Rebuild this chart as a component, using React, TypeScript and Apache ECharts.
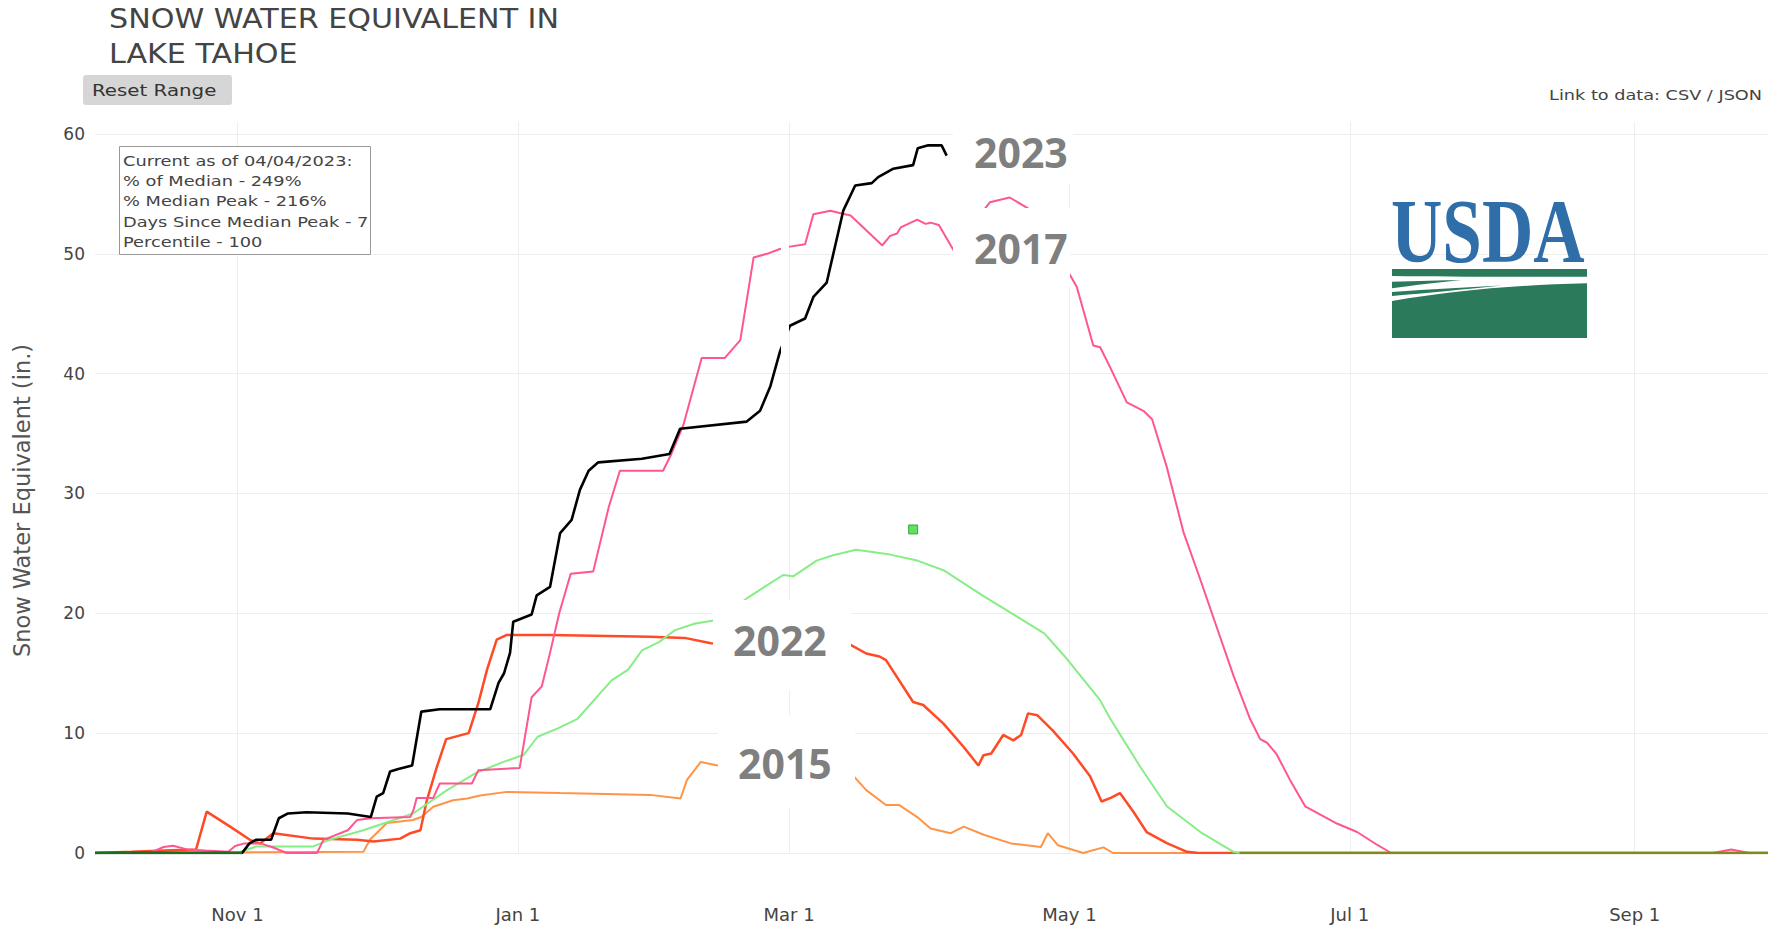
import React, { useEffect, useRef } from "react";
import * as echarts from "echarts";

// ---- axis ticks (day 0 = Oct 1 of the water year) ----
const tickDays = [31, 92, 151, 212, 273, 335];
const tickLabels = ["Nov 1", "Jan 1", "Mar 1", "May 1", "Jul 1", "Sep 1"];
const yTicks = [0, 10, 20, 30, 40, 50, 60];

// ---- series: [day of water year, SWE inches] ----
const swe2023 = [
  [0, 0], [32, 0], [33.6, 0.8], [35, 1.1], [38.3, 1.1], [40, 2.9], [42, 3.3], [46, 3.4], [55, 3.3], [60, 3.0],
  [61.3, 4.7], [62.7, 5.0], [64.2, 6.8], [66, 7.0], [69, 7.3], [71, 11.8], [75, 12.0], [86, 12.0], [87.8, 14.2],
  [89, 15.0], [90.3, 16.7], [91, 19.3], [95, 19.9], [96.1, 21.5], [99, 22.2], [101.2, 26.7], [103.7, 27.8],
  [105.5, 30.3], [107.4, 31.9], [109.5, 32.6], [119, 32.9], [125, 33.3], [127.3, 35.4], [141.8, 36.0],
  [144.7, 36.9], [146.9, 38.9], [149, 41.8], [151.2, 44.0], [154.5, 44.6], [156.3, 46.4], [159.2, 47.6],
  [162.8, 53.6], [165.4, 55.7], [169, 55.9], [170.4, 56.4], [173.7, 57.1], [178, 57.4], [179, 58.8],
  [181.3, 59.05], [184.2, 59.05], [185.3, 58.2],
];

const swe2017 = [
  [0, 0], [12, 0], [14.9, 0.5], [17, 0.6], [20, 0.3], [24, 0.2], [29, 0.1], [30.5, 0.58], [32.5, 0.8], [36, 0.8],
  [38.5, 0.5], [41.7, 0], [48.3, 0], [49.7, 1.1], [55, 1.9], [57, 2.75], [60, 2.9], [68.6, 3.0], [69.3, 3.6],
  [70, 4.6], [73.6, 4.6], [75, 5.8], [82, 5.8], [83.4, 6.9], [92.4, 7.1], [95, 13.0], [97.2, 13.9], [99, 16.7],
  [101, 20.0], [103.5, 23.3], [108.4, 23.5], [111.8, 28.9], [114.2, 31.9], [123.6, 31.9], [125.4, 33.3],
  [128, 35.7], [132, 41.3], [137, 41.3], [140.4, 42.8], [143.3, 49.7], [146.2, 50.0], [149, 50.4],
  [151.2, 50.6], [154.5, 50.8], [156.3, 53.3], [160, 53.6], [162, 53.4], [164.4, 53.2], [171.3, 50.7],
  [173, 51.5], [174.5, 51.7], [175.3, 52.2], [178.9, 52.85], [180.7, 52.5], [181.8, 52.6], [183.6, 52.4],
  [186.8, 50.3], [190, 52.0], [194.7, 54.3], [199, 54.7], [203, 53.8], [208, 51.0], [213.6, 47.25],
  [217.2, 42.35], [218.7, 42.2], [220.9, 40.5], [224.5, 37.6], [228.1, 36.9], [230, 36.2], [233.2, 32.2],
  [236.8, 26.8], [240.5, 22.8], [244.1, 18.8], [247.7, 14.8], [251.3, 11.2], [253.5, 9.5], [255, 9.2],
  [257, 8.3], [260, 6.1], [263.3, 3.9], [266.6, 3.2], [270.2, 2.46], [274.6, 1.75], [279, 0.67], [282, 0],
  [352, 0], [356, 0.3], [360, 0], [364, 0],
];

const swe2022 = [
  [0, 0], [8, 0.1], [15, 0.2], [22, 0.3], [24.3, 3.45], [29.4, 2.2], [33.7, 1.1], [35.9, 0.8], [38.8, 1.65],
  [47.5, 1.2], [57, 1.1], [60.6, 0.95], [66.4, 1.2], [68.6, 1.65], [70.8, 1.9], [72.2, 4.4], [74.4, 7.2],
  [76.4, 9.5], [81.3, 10.0], [83.4, 12.5], [85.3, 15.3], [87.4, 17.8], [89.6, 18.2], [99, 18.2],
  [120.8, 18.05], [128.3, 17.95], [134, 17.5], [150, 17.4], [164.5, 17.35], [167.8, 16.65], [170.7, 16.4],
  [172.1, 16.1], [178, 12.6], [180.2, 12.35], [184.6, 10.8], [189, 8.85], [192.2, 7.3], [193.3, 8.15],
  [195, 8.3], [197.6, 9.85], [199.8, 9.4], [201.5, 9.85], [203, 11.65], [205, 11.5], [208.3, 10.25],
  [212.8, 8.3], [216.5, 6.4], [219, 4.3], [221, 4.6], [223, 5.0], [226, 3.4], [228.8, 1.75], [233.2, 0.83],
  [237.6, 0.1], [240, 0], [364, 0],
];

const swe2015 = [
  [0, 0], [58.4, 0.1], [59.8, 1.1], [63.5, 2.5], [69.2, 2.75], [71, 3.0], [73.6, 3.86], [77.9, 4.4], [81, 4.55],
  [83.8, 4.8], [89.6, 5.1], [101.2, 5.0], [120.8, 4.85], [127.4, 4.55], [128.8, 6.1], [131.8, 7.6],
  [135.5, 7.3], [150, 7.0], [165.1, 6.4], [167.8, 5.25], [172.1, 4.0], [175, 4.0], [178.9, 3.0], [181.8, 2.05],
  [186.2, 1.65], [189, 2.2], [193.5, 1.5], [199.3, 0.8], [205.8, 0.5], [207.3, 1.65], [209.5, 0.65], [215, 0],
  [219.4, 0.47], [221.5, 0], [364, 0],
];

const sweMedian = [
  [0, 0], [30.8, 0], [35.2, 0.55], [41.7, 0.55], [47.5, 0.55], [51, 1.1], [58.4, 1.9], [69.2, 3.3],
  [76.6, 5.25], [83, 6.7], [88.9, 7.6], [93.3, 8.2], [96.3, 9.7], [100.7, 10.4], [105, 11.2], [108, 12.5],
  [112.4, 14.4], [116, 15.3], [119, 16.9], [122.7, 17.6], [126.2, 18.6], [130.6, 19.15], [134.6, 19.4],
  [138.8, 20.4], [142.4, 21.4], [149.7, 23.2], [152, 23.1], [157, 24.4], [160.6, 24.85], [165.6, 25.3],
  [173, 24.9], [178.9, 24.4], [184.6, 23.6], [193.5, 21.4], [200.7, 19.7], [206.6, 18.3], [211, 16.4],
  [215, 14.5], [218.6, 12.8], [220.9, 11.2], [227.4, 7.2], [233.2, 3.9], [240.5, 1.75], [247.7, 0.1],
  [249, 0], [364, 0],
];

const medianPeak = [[178, 27.0]];
const zeroEarly = [[0, 0], [32, 0]];
const zeroLate = [[249, 0], [364, 0]];

const titleLines = ["SNOW WATER EQUIVALENT IN", "LAKE TAHOE"];
const infoLines = [
  "Current as of 04/04/2023:",
  "% of Median - 249%",
  "% Median Peak - 216%",
  "Days Since Median Peak - 7",
  "Percentile - 100",
];
const yearLabels = ["2023", "2017", "2022", "2015"];

const usdaFieldPath =
  "M0,1 L195,1 L195,8.7 C130,8.7 60,9 0,8 Z " +
  "M0,13.7 C25,13 50,12.3 70,12 C45,14.5 20,17.5 0,20.3 Z " +
  "M0,24 C40,21 70,19.5 110,17.5 C70,21.5 35,25 0,28 Z " +
  "M0,33 C60,23 120,17 195,15.3 L195,70 L0,70 Z";
echarts.graphic.registerShape("usdaField", echarts.graphic.extendPath(usdaFieldPath, {}) as any);

function lineSeries(name: string, data: number[][], color: string, width: number) {
  return {
    name,
    type: "line",
    data,
    showSymbol: false,
    symbol: "none",
    silent: true,
    lineStyle: { color, width },
    emphasis: { disabled: true },
  };
}

const sans = '"DejaVu Sans", Verdana, sans-serif';

export default function App() {
  const ref = useRef<HTMLDivElement>(null);
  useEffect(() => {
    const chart = echarts.init(ref.current!, null, { renderer: "svg" });
    const option: any = {
      animation: false,
      backgroundColor: "#ffffff",
      grid: { left: 95, right: 23, top: 122, bottom: 74, containLabel: false },
      xAxis: {
        type: "value",
        min: 0,
        max: 364,
        axisLine: { show: false },
        axisTick: { show: false, customValues: tickDays },
        axisLabel: {
          customValues: tickDays,
          formatter: (v: number) => {
            const i = tickDays.indexOf(Math.round(v));
            return i >= 0 ? tickLabels[i] : "";
          },
          color: "#444",
          fontSize: 18,
          fontFamily: sans,
          margin: 52,
        },
        splitLine: { show: true, lineStyle: { color: "#eeeeee", width: 1 } },
      },
      yAxis: {
        type: "value",
        min: 0,
        max: 61,
        name: "Snow Water Equivalent (in.)",
        nameLocation: "middle",
        nameGap: 62,
        nameRotate: 90,
        nameTextStyle: { color: "#555", fontSize: 22.5, fontFamily: sans, padding: [0, 26, 0, 0] },
        axisLine: { show: false },
        axisTick: { show: false, customValues: yTicks },
        axisLabel: { customValues: yTicks, color: "#444", fontSize: 17, fontFamily: sans, margin: 10 },
        splitLine: { show: true, lineStyle: { color: "#eeeeee", width: 1 } },
      },
      series: [
        lineSeries("2015", swe2015, "#ff9447", 2),
        lineSeries("2022", swe2022, "#ff4a26", 2.5),
        lineSeries("Median", sweMedian, "#86ee86", 2),
        lineSeries("2017", swe2017, "#ff5590", 2),
        lineSeries("2023", swe2023, "#000000", 2.6),
        lineSeries("Min", zeroEarly, "#1f6b1f", 2.6),
        lineSeries("Zero", zeroLate, "#7b8b1d", 2.6),
        {
          name: "Median Peak",
          type: "scatter",
          data: medianPeak,
          symbol: "rect",
          symbolSize: 9,
          silent: true,
          itemStyle: { color: "#3ad83a", borderColor: "#1e9a1e", borderWidth: 1 },
        },
      ],
      graphic: [
        {
          type: "text", x: 109, y: 2, scaleX: 1.16, z: 50,
          style: { text: titleLines.join("\n"), fontSize: 26, fontFamily: sans, fill: "#444", lineHeight: 35 },
        },
        { type: "rect", x: 83, y: 75, z: 50, shape: { width: 149, height: 30, r: 3 }, style: { fill: "#d6d6d6" } },
        {
          type: "text", x: 92, y: 90, scaleX: 1.2, z: 51,
          style: { text: "Reset Range", fontSize: 16.5, fontFamily: sans, fill: "#333", verticalAlign: "middle" },
        },
        {
          type: "text", x: 1762, y: 95, scaleX: 1.22, z: 50,
          style: { text: "Link to data: CSV / JSON", fontSize: 14.5, fontFamily: sans, fill: "#444", align: "right", verticalAlign: "middle" },
        },
        { type: "rect", x: 119.5, y: 146.5, z: 50, shape: { width: 251, height: 108 }, style: { fill: "#fff", stroke: "#999", lineWidth: 1 } },
        {
          type: "text", x: 123, y: 151, scaleX: 1.27, z: 51,
          style: { text: infoLines.join("\n"), fontSize: 14, fontFamily: sans, fill: "#444", lineHeight: 20.25 },
        },
        // USDA logo
        {
          type: "text", x: 1391, y: 232, scaleX: 0.79, z: 50,
          style: { text: "USDA", fontSize: 90, fontWeight: "bold", fontFamily: '"Liberation Serif", serif', fill: "#2f6ea8", verticalAlign: "middle" },
        },
        { type: "usdaField", x: 1392, y: 268, z: 50, style: { fill: "#2b7a5b" } },
        // white masks behind the year annotations
        { type: "rect", x: 953, y: 118, z: 60, shape: { width: 120, height: 66 }, style: { fill: "#fff" } },
        { type: "rect", x: 953, y: 208, z: 60, shape: { width: 117, height: 79 }, style: { fill: "#fff" } },
        { type: "rect", x: 713, y: 600, z: 60, shape: { width: 138, height: 90 }, style: { fill: "#fff" } },
        { type: "rect", x: 718, y: 716, z: 60, shape: { width: 137, height: 92 }, style: { fill: "#fff" } },
        { type: "rect", x: 781, y: 236, z: 60, shape: { width: 8, height: 126 }, style: { fill: "#fff" } },
        {
          type: "text", x: 974, y: 152, z: 61,
          style: { text: yearLabels[0], fontSize: 41, fontWeight: "bold", fontFamily: '"Open Sans", sans-serif', fill: "#7f7f7f", verticalAlign: "middle" },
        },
        {
          type: "text", x: 974, y: 248, z: 61,
          style: { text: yearLabels[1], fontSize: 41, fontWeight: "bold", fontFamily: '"Open Sans", sans-serif', fill: "#7f7f7f", verticalAlign: "middle" },
        },
        {
          type: "text", x: 733, y: 640, z: 61,
          style: { text: yearLabels[2], fontSize: 41, fontWeight: "bold", fontFamily: '"Open Sans", sans-serif', fill: "#7f7f7f", verticalAlign: "middle" },
        },
        {
          type: "text", x: 738, y: 763, z: 61,
          style: { text: yearLabels[3], fontSize: 41, fontWeight: "bold", fontFamily: '"Open Sans", sans-serif', fill: "#7f7f7f", verticalAlign: "middle" },
        },
      ],
    };
    chart.setOption(option);
    return () => chart.dispose();
  }, []);
  return (
    <div
      ref={ref}
      style={{ position: "absolute", left: 0, top: 0, width: 1791, height: 927, background: "#fff" }}
    />
  );
}
